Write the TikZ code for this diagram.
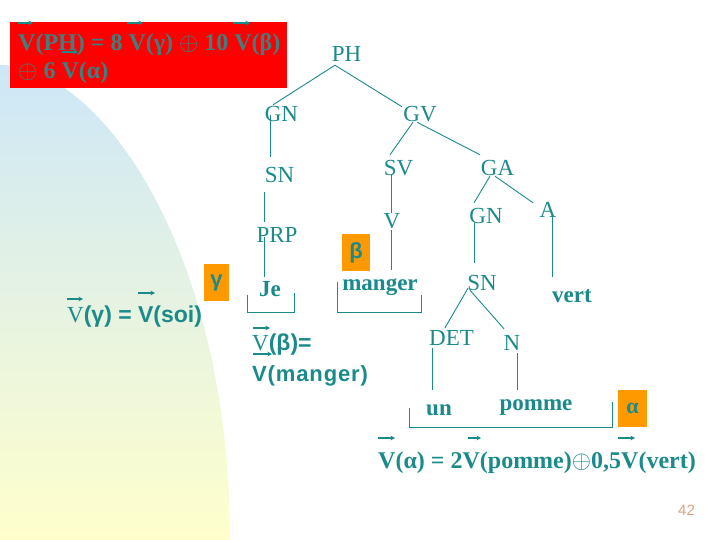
\documentclass[tikz,border=0pt]{standalone}
\usepackage{fontspec}
\setmainfont{Liberation Serif}
\setsansfont{Liberation Sans}
\newfontfamily\spsans[LetterSpace=4]{Liberation Sans}
\usetikzlibrary{arrows.meta}
\definecolor{teal1}{HTML}{1A8A8A}
\definecolor{tealgrey}{HTML}{3F7F80}
\definecolor{orng}{HTML}{FF9900}
\definecolor{pgnum}{HTML}{D6A486}
\definecolor{bgblue}{HTML}{CDE7F8}
\definecolor{bgyel}{HTML}{FFFFCC}
\begin{document}
\begin{tikzpicture}[x=1pt,y=-1pt,
  cat/.style={anchor=base,inner sep=0pt,text=teal1,font=\fontsize{23}{27}\selectfont,text height=15.5pt,text depth=0pt},
  leaf/.style={cat,font=\fontsize{23}{27}\selectfont\bfseries,text height=10.6pt},
  ln/.style={draw=teal1,line width=0.9pt},
  brk/.style={draw=teal1,line width=0.9pt},
  vec/.style={draw=teal1,line width=1.3pt,-{Stealth[length=4.5pt,width=4.5pt]}},
  obox/.style={fill=orng,minimum height=37pt,inner sep=0pt,text=teal1,font=\fontsize{22}{26}\selectfont\sffamily\bfseries},
  eq/.style={anchor=base west,inner sep=0pt,text=teal1}
]
\useasboundingbox (0,0) rectangle (720,540);
% background gradient shape
\shade[top color=bgblue,bottom color=bgyel]
  (0,65) .. controls (100,65) and (230,250) .. (230,540) -- (0,540) -- cycle;
% red box
\fill[red] (10,22) rectangle (287,88);
\node[eq,text=tealgrey,font=\fontsize{24}{28}\selectfont\bfseries] (eqPH) at (18,51) {V(PH) = 8 V(γ) $\oplus$ 10 V(β)};
\node[eq,text=tealgrey,font=\fontsize{24}{28}\selectfont\bfseries] (eqPH2) at (18,79) {$\oplus$ 6 V(α)};
\draw[vec] (18,23) -- (33,23);
\draw[vec] (127,23) -- (143,23);
\draw[vec] (233,23) -- (250,23);
\draw[vec] (62,52) -- (78,52);

% tree nodes
\node[cat] (PH) at (346.5,62) {PH};
\node[cat] (GNa) at (281.5,122) {GN};
\node[cat] (GV) at (420,122) {GV};
\node[cat] (SNa) at (279.5,183) {SN};
\node[cat] (SV) at (398.5,176) {SV};
\node[cat] (GA) at (497.5,176) {GA};
\node[cat] (PRP) at (277,243) {PRP};
\node[cat] (V) at (392,229) {V};
\node[cat] (GNb) at (486,223) {GN};
\node[cat] (A) at (548,218) {A};
\node[leaf] (Je) at (270,296) {Je};
\node[leaf] (manger) at (380,290) {manger};
\node[cat] (SNb) at (482,290) {SN};
\node[leaf] (vert) at (572,302) {vert};
\node[cat] (DET) at (451.5,345) {DET};
\node[cat] (N) at (512,350) {N};
\node[leaf] (un) at (439,415) {un};
\node[leaf] (pomme) at (536,410) {pomme};

% connectors
\draw[ln] ([shift={(-11.5,3)}]PH.south) -- ([shift={(-8.5,-1.5)}]GNa.north);
\draw[ln] ([shift={(-11.5,3)}]PH.south) -- ([shift={(-18,0.5)}]GV.north);
\draw[ln] ([shift={(-11.5,-7)}]GNa.south) -- ([shift={(-9.5,-10.5)}]SNa.north);
\draw[ln] ([shift={(-15.5,9)}]SNa.south) -- ([shift={(-13,-5.5)}]PRP.north);
\draw[ln] ([shift={(-13,-6)}]PRP.south) -- ([shift={(-6,-8.4)}]Je.north);
\draw[ln] ([shift={(-7,0)}]GV.south) -- ([shift={(-8.5,-5.5)}]SV.north);
\draw[ln] ([shift={(-3,0)}]GV.south) -- ([shift={(-17.5,-5.5)}]GA.north);
\draw[ln] ([shift={(-7.5,-1)}]SV.south) -- ([shift={(-1,-0.5)}]V.north);
\draw[ln] ([shift={(-1,1)}]V.south) -- ([shift={(11,-9.4)}]manger.north);
\draw[ln] ([shift={(-7.5,0)}]GA.south) -- ([shift={(-12,-4.5)}]GNb.north);
\draw[ln] ([shift={(-2.5,0)}]GA.south) -- ([shift={(-15,0.5)}]A.north);
\draw[ln] ([shift={(-12,0)}]GNb.south) -- ([shift={(-8,-11.5)}]SNb.north);
\draw[ln] ([shift={(4,-1)}]A.south) -- ([shift={(-20,-14.4)}]vert.north);
\draw[ln] ([shift={(-14,-2)}]SNb.south) -- ([shift={(-6.5,-1.5)}]DET.north);
\draw[ln] ([shift={(-12,0)}]SNb.south) -- ([shift={(-8,-5.5)}]N.north);
\draw[ln] ([shift={(-19.5,3)}]DET.south) -- ([shift={(-7,-14.4)}]un.north);
\draw[ln] ([shift={(5,3)}]N.south) -- ([shift={(-19,-9.4)}]pomme.north);

% brackets
\draw[brk] (247,295) -- (247,312) -- (294,312) -- (294,293);
\draw[brk] (337,282) -- (337,312) -- (421,312) -- (421,295);
\draw[brk] (409,408) -- (409,427) -- (612,427) -- (612,402);

% orange boxes
\node[obox,minimum width=25pt] (gbox) at (216.5,282.5) {γ};
\node[obox,minimum width=28pt] (bbox) at (356,252.5) {β};
\node[obox,minimum width=29pt,font=\fontsize{22}{26}\selectfont\bfseries] (abox) at (632.5,408.5) {α};

% equations
\node[eq,font=\fontsize{23}{27}\selectfont\sffamily\bfseries] (eqG) at (67,322) {{\rmfamily\mdseries V}(γ) = V(soi)};
\draw[vec] (67,299) -- (83,299);
\draw[vec] (138,293) -- (155,293);

\node[eq,font=\fontsize{23}{27}\selectfont\sffamily\bfseries] (eqB) at (252,350) {{\rmfamily\mdseries V}(β)=};
\node[eq,font=\fontsize{22}{26}\spsans\bfseries] (eqB2) at (252,381) {V(manger)};
\draw[vec] (253,328) -- (270,328);
\draw[vec] (253,354) -- (272,354);

\node[eq,font=\fontsize{24}{28}\selectfont\bfseries] (eqA) at (378,468) {V(α) = 2V(pomme)$\oplus$0,5V(vert)};
\draw[vec] (378,438) -- (395,438);
\draw[vec] (468,438) -- (481,438);
\draw[vec] (618,438) -- (635,438);

\node[anchor=base,inner sep=0pt,text=pgnum,font=\fontsize{15}{18}\selectfont\sffamily] (pg) at (686.5,515) {42};
\end{tikzpicture}
\end{document}
